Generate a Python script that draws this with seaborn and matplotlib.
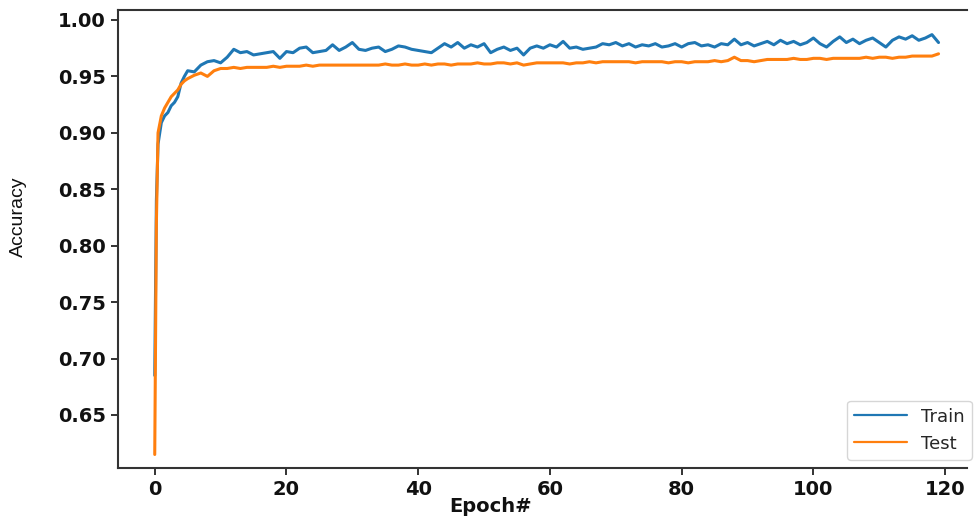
import pandas as pd
import seaborn as sns
import matplotlib.pyplot as plt

# epochs: finer sampling during the first few epochs, then one point per epoch
early_epochs = [0, 0.25, 0.5, 1, 1.5, 2, 2.5, 3, 3.5, 4, 4.5]
epochs = early_epochs + list(range(5, 120))

train_acc = [
    0.685, 0.840, 0.890, 0.909, 0.915, 0.918, 0.924, 0.927, 0.932, 0.944, 0.950,
    0.955, 0.954, 0.960, 0.963, 0.964, 0.962, 0.967, 0.974, 0.971, 0.972,
    0.969, 0.970, 0.971, 0.972, 0.966, 0.972, 0.971, 0.975, 0.976, 0.971,
    0.972, 0.973, 0.978, 0.973, 0.976, 0.980, 0.974, 0.973, 0.975, 0.976,
    0.972, 0.974, 0.977, 0.976, 0.974, 0.973, 0.972, 0.971, 0.975, 0.979,
    0.976, 0.980, 0.975, 0.978, 0.976, 0.979, 0.971, 0.974, 0.976, 0.973,
    0.975, 0.969, 0.975, 0.977, 0.975, 0.978, 0.976, 0.981, 0.975, 0.976,
    0.974, 0.975, 0.976, 0.979, 0.978, 0.980, 0.977, 0.979, 0.976, 0.978,
    0.977, 0.979, 0.976, 0.977, 0.979, 0.976, 0.979, 0.980, 0.977, 0.978,
    0.976, 0.979, 0.978, 0.983, 0.978, 0.980, 0.977, 0.979, 0.981, 0.978,
    0.982, 0.979, 0.981, 0.978, 0.980, 0.984, 0.979, 0.976, 0.981, 0.985,
    0.980, 0.983, 0.979, 0.982, 0.984, 0.980, 0.976, 0.982, 0.985, 0.983,
    0.986, 0.982, 0.984, 0.987, 0.980,
]

test_acc = [
    0.615, 0.820, 0.900, 0.915, 0.922, 0.927, 0.932, 0.935, 0.938, 0.943, 0.946,
    0.948, 0.951, 0.953, 0.950, 0.955, 0.957, 0.957, 0.958, 0.957, 0.958,
    0.958, 0.958, 0.958, 0.959, 0.958, 0.959, 0.959, 0.959, 0.960, 0.959,
    0.960, 0.960, 0.960, 0.960, 0.960, 0.960, 0.960, 0.960, 0.960, 0.960,
    0.961, 0.960, 0.960, 0.961, 0.960, 0.960, 0.961, 0.960, 0.961, 0.961,
    0.960, 0.961, 0.961, 0.961, 0.962, 0.961, 0.961, 0.962, 0.962, 0.961,
    0.962, 0.960, 0.961, 0.962, 0.962, 0.962, 0.962, 0.962, 0.961, 0.962,
    0.962, 0.963, 0.962, 0.963, 0.963, 0.963, 0.963, 0.963, 0.962, 0.963,
    0.963, 0.963, 0.963, 0.962, 0.963, 0.963, 0.962, 0.963, 0.963, 0.963,
    0.964, 0.963, 0.964, 0.967, 0.964, 0.964, 0.963, 0.964, 0.965, 0.965,
    0.965, 0.965, 0.966, 0.965, 0.965, 0.966, 0.966, 0.965, 0.966, 0.966,
    0.966, 0.966, 0.966, 0.967, 0.966, 0.967, 0.967, 0.966, 0.967, 0.967,
    0.968, 0.968, 0.968, 0.968, 0.970,
]

y_ticks = [0.65, 0.70, 0.75, 0.80, 0.85, 0.90, 0.95, 1.00]
x_ticks = [0, 20, 40, 60, 80, 100, 120]

df = pd.DataFrame({'epoch': epochs, 'Train': train_acc, 'Test': test_acc})
long_df = df.melt(id_vars='epoch', var_name='set', value_name='acc')

sns.set_style('ticks')
plt.rcParams['font.family'] = ['DejaVu Sans']

fig = plt.figure(figsize=(9.74, 5.16), dpi=100)
# the original is cut off on the right, so the right spine is not shown
ax = fig.add_axes([0.121, 0.093, 0.872, 0.888])

sns.lineplot(data=long_df, x='epoch', y='acc', hue='set',
             palette=['#1f77b4', '#ff7f0e'], linewidth=2.2, ax=ax)

ax.set_xlim(-5.6, 123.35)
ax.set_ylim(0.603, 1.009)
ax.set_yticks(y_ticks)
ax.set_xticks(x_ticks)
ax.set_yticklabels([f'{v:.2f}' for v in y_ticks], fontsize=14, fontweight='bold')
ax.set_xticklabels([str(v) for v in x_ticks], fontsize=14, fontweight='bold')
ax.tick_params(length=5, width=1.2, colors='#111111')

ax.spines['right'].set_visible(False)
for s in ax.spines.values():
    s.set_linewidth(1.5)
    s.set_color('#333333')

ax.set_xlabel('Epoch#', fontsize=14, fontweight='bold', color='#111111')
ax.xaxis.set_label_coords(0.439, -0.064)
ax.set_ylabel('Accuracy', fontsize=14, color='#111111',
              family=['Liberation Sans Narrow', 'Liberation Sans'])
ax.yaxis.set_label_coords(-0.107, 0.548)

ax.legend(loc='lower right', fontsize=13, handlelength=2.9, title=None,
          bbox_to_anchor=(972 / 974, 1 - 460 / 516), bbox_transform=fig.transFigure,
          borderaxespad=0)
for line in ax.get_legend().get_lines():
    line.set_linewidth(1.6)

plt.savefig('out.png', dpi=100)
